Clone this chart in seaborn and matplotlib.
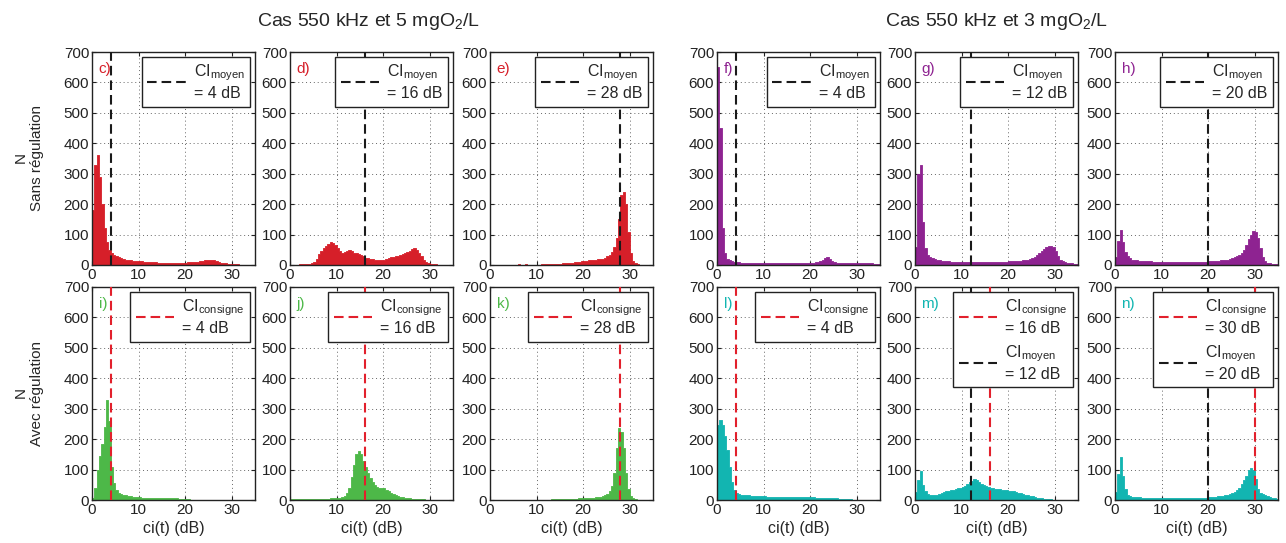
import numpy as np
import pandas as pd
import seaborn as sns
import matplotlib.pyplot as plt

# bin width 0.5 dB, from 0 to 35 dB
bin_width = 0.5

hist_c = [180, 330, 360, 290, 200, 120, 75, 50, 38, 33,
          28, 25, 22, 20, 18, 16, 15, 14, 13, 13,
          12, 12, 11, 11, 10, 10, 9, 9, 8, 8,
          8, 8, 7, 7, 7, 7, 7, 7, 8, 8,
          8, 9, 9, 10, 10, 11, 12, 14, 15, 17,
          18, 18, 16, 14, 11, 8, 6, 5, 4, 3,
          3, 2, 2, 1, 1, 1, 0, 0, 0, 0]
hist_d = [0, 0, 1, 1, 2, 2, 2, 3, 3, 5,
          10, 20, 35, 45, 55, 62, 70, 75, 72, 66,
          55, 45, 40, 42, 46, 48, 45, 40, 38, 37,
          34, 28, 24, 22, 21, 20, 18, 17, 16, 15,
          18, 21, 24, 25, 27, 29, 31, 33, 35, 38,
          42, 46, 52, 55, 48, 38, 28, 18, 10, 6,
          4, 3, 2, 1, 1, 1, 0, 0, 0, 0]
hist_e = [1, 1, 1, 1, 1, 1, 1, 1, 1, 1,
          1, 1, 2, 1, 1, 2, 1, 1, 1, 1,
          1, 1, 2, 2, 2, 2, 3, 3, 3, 4,
          4, 5, 5, 6, 7, 8, 9, 10, 11, 12,
          13, 14, 15, 16, 17, 18, 19, 20, 21, 24,
          28, 33, 42, 60, 90, 150, 230, 240, 200, 110,
          40, 12, 5, 2, 1, 0, 0, 0, 0, 0]
hist_f = [650, 450, 120, 40, 20, 15, 12, 11, 10, 9,
          8, 8, 8, 7, 7, 7, 7, 6, 6, 6,
          6, 6, 6, 6, 5, 5, 5, 5, 5, 5,
          5, 5, 5, 5, 6, 6, 6, 6, 7, 7,
          7, 8, 9, 10, 12, 16, 22, 25, 20, 14,
          10, 8, 7, 7, 6, 6, 6, 6, 6, 6,
          6, 6, 6, 5, 5, 5, 5, 4, 4, 4]
hist_g = [60, 300, 330, 140, 55, 32, 25, 22, 19, 17,
          15, 14, 13, 12, 12, 11, 11, 10, 10, 10,
          10, 10, 9, 9, 9, 9, 9, 9, 9, 9,
          9, 9, 10, 10, 10, 10, 10, 11, 11, 11,
          12, 12, 12, 13, 13, 14, 15, 16, 18, 20,
          23, 27, 32, 38, 45, 52, 60, 64, 64, 58,
          45, 30, 18, 12, 9, 7, 6, 5, 4, 3]
hist_h = [25, 80, 115, 75, 42, 28, 22, 18, 16, 15,
          14, 13, 13, 12, 12, 12, 11, 11, 11, 11,
          10, 10, 10, 10, 10, 10, 10, 10, 10, 10,
          10, 10, 10, 10, 10, 10, 11, 11, 11, 11,
          12, 12, 13, 13, 14, 15, 16, 17, 18, 20,
          22, 25, 28, 33, 40, 50, 65, 85, 100, 112,
          110, 90, 55, 25, 12, 8, 6, 4, 3, 2]
hist_i = [5, 40, 100, 145, 185, 240, 330, 260, 110, 55,
          32, 24, 19, 16, 15, 14, 13, 11, 10, 9,
          9, 8, 8, 8, 7, 7, 7, 6, 6, 6,
          6, 5, 5, 5, 5, 5, 5, 4, 4, 4,
          4, 2, 1, 1, 1, 1, 1, 0, 0, 0,
          0, 0, 0, 0, 0, 0, 0, 0, 0, 0,
          0, 0, 0, 0, 0, 0, 0, 0, 0, 0]
hist_j = [2, 2, 2, 2, 2, 2, 2, 2, 2, 3,
          3, 3, 3, 3, 4, 4, 4, 5, 5, 6,
          7, 8, 10, 14, 22, 40, 75, 115, 150, 162,
          150, 128, 108, 90, 72, 58, 48, 42, 38, 40,
          38, 33, 28, 23, 20, 17, 14, 11, 9, 7,
          6, 5, 4, 3, 3, 2, 2, 2, 1, 1,
          1, 1, 1, 0, 0, 0, 0, 0, 0, 0]
hist_k = [0, 0, 0, 0, 0, 0, 0, 0, 0, 0,
          1, 1, 1, 1, 1, 1, 1, 1, 1, 1,
          1, 1, 1, 1, 1, 1, 2, 2, 2, 2,
          2, 3, 3, 3, 3, 4, 4, 4, 5, 5,
          6, 6, 7, 7, 8, 9, 10, 11, 13, 16,
          20, 28, 45, 90, 170, 235, 225, 170, 90, 35,
          12, 5, 2, 1, 0, 0, 0, 0, 0, 0]
hist_l = [245, 262, 245, 210, 165, 110, 60, 32, 24, 20,
          18, 17, 16, 15, 14, 14, 13, 13, 12, 12,
          12, 11, 11, 11, 10, 10, 10, 10, 10, 10,
          9, 9, 9, 9, 9, 9, 9, 9, 9, 9,
          9, 9, 8, 8, 8, 8, 8, 8, 7, 6,
          5, 5, 4, 3, 3, 2, 2, 2, 1, 1,
          1, 1, 1, 0, 0, 0, 0, 0, 0, 0]
hist_m = [25, 65, 95, 50, 28, 20, 17, 15, 16, 18,
          21, 24, 27, 29, 31, 33, 34, 36, 38, 40,
          43, 47, 52, 58, 64, 70, 66, 58, 52, 48,
          45, 43, 41, 39, 37, 36, 35, 34, 33, 32,
          31, 30, 28, 26, 24, 22, 20, 18, 16, 14,
          12, 10, 8, 6, 5, 4, 3, 2, 2, 1,
          1, 1, 1, 1, 1, 1, 1, 0, 0, 0]
hist_n = [25, 85, 140, 80, 35, 18, 13, 11, 10, 9,
          9, 8, 8, 8, 8, 8, 8, 8, 8, 8,
          8, 8, 8, 8, 8, 8, 8, 8, 8, 8,
          8, 8, 8, 8, 8, 8, 8, 8, 8, 8,
          9, 9, 10, 11, 12, 13, 14, 15, 17, 19,
          22, 26, 32, 40, 52, 65, 80, 98, 105, 100,
          70, 35, 24, 20, 16, 13, 10, 7, 5, 3]

panel_labels = ["c)", "d)", "e)", "f)", "g)", "h)",
                "i)", "j)", "k)", "l)", "m)", "n)"]
hists = [hist_c, hist_d, hist_e, hist_f, hist_g, hist_h,
         hist_i, hist_j, hist_k, hist_l, hist_m, hist_n]
# reference lines per panel: (value, kind)
ci_lines = [
    [(4, "moyen")], [(16, "moyen")], [(28, "moyen")],
    [(4, "moyen")], [(12, "moyen")], [(20, "moyen")],
    [(4, "consigne")], [(16, "consigne")], [(28, "consigne")],
    [(4, "consigne")], [(16, "consigne"), (12, "moyen")], [(30, "consigne"), (20, "moyen")],
]

red = "#d61f29"
purple = "#8e2391"
green = "#4db848"
teal = "#12b5b1"
panel_colors = [red] * 3 + [purple] * 3 + [green] * 3 + [teal] * 3
line_colors = {"moyen": "#1a1a1a", "consigne": "#e2202c"}

sns.set_style("ticks")
plt.rcParams["font.family"] = ["Liberation Sans", "DejaVu Sans"]
plt.rcParams["mathtext.fontset"] = "custom"
plt.rcParams["mathtext.rm"] = "Liberation Sans"
plt.rcParams["mathtext.it"] = "Liberation Sans:italic"

W, H = 1286, 543
fig = plt.figure(figsize=(W / 100, H / 100), dpi=100)

lefts = [92, 290, 490, 717, 915, 1115]
tops = [52, 287]
aw, ah = 163, 213

for k in range(12):
    row, col = divmod(k, 6)
    ax = fig.add_axes([lefts[col] / W, 1 - (tops[row] + ah) / H, aw / W, ah / H])
    vals = np.array(hists[k], dtype=float)
    centers = np.arange(len(vals)) * bin_width + bin_width / 2
    df = pd.DataFrame({"ci": centers, "n": vals})
    sns.histplot(data=df, x="ci", weights="n", binwidth=bin_width,
                 binrange=(0, len(vals) * bin_width), element="step", fill=True,
                 color=panel_colors[k], edgecolor=panel_colors[k], alpha=1,
                 linewidth=0.6, ax=ax, zorder=2)
    for v, kind in ci_lines[k]:
        lab = r"CI$_{\mathrm{" + kind + r"}}$" + "\n" + f"= {v} dB"
        ax.axvline(v, color=line_colors[kind], lw=1.5, ls=(0, (4.6, 2.4)),
                   zorder=3, label=lab)
    ax.set_xlim(0, 35)
    ax.set_ylim(0, 700)
    ax.set_xticks([0, 10, 20, 30])
    ax.set_yticks(range(0, 701, 100))
    ax.grid(True, ls=(0, (1, 3)), color="0.4", lw=0.7, zorder=1)
    ax.set_axisbelow(True)
    ax.tick_params(direction="in", top=True, right=True, length=3,
                   labelsize=11, pad=2, colors="#222222")
    for s in ax.spines.values():
        s.set_linewidth(1.0)
        s.set_color("#222222")
    ax.set_ylabel("")
    ax.set_xlabel("ci(t) (dB)" if row == 1 else "", fontsize=11.5, labelpad=3)
    ax.text(0.04, 0.92, panel_labels[k], transform=ax.transAxes,
            color=panel_colors[k], fontsize=11, va="center", ha="left")
    leg = ax.legend(loc="upper right", fontsize=11.5, frameon=True, fancybox=False,
                    framealpha=1, edgecolor="#222222", handlelength=2.4,
                    borderaxespad=0.3, borderpad=0.35, labelspacing=0.45,
                    handletextpad=0.5)
    leg.get_frame().set_linewidth(1.0)
    for t in leg.get_texts():
        t.set_linespacing(1.25)

fig.text(369 / W, 1 - 22 / H, r"Cas 550 kHz et 5 mgO$_2$/L", ha="center", va="center",
         fontsize=14)
fig.text(997 / W, 1 - 22 / H, r"Cas 550 kHz et 3 mgO$_2$/L", ha="center", va="center",
         fontsize=14)
fig.text(29 / W, 1 - 158 / H, "N\nSans régulation", rotation=90, ha="center",
         va="center", fontsize=11, multialignment="center")
fig.text(29 / W, 1 - 393 / H, "N\nAvec régulation", rotation=90, ha="center",
         va="center", fontsize=11, multialignment="center")

fig.savefig("out.png", dpi=100)
